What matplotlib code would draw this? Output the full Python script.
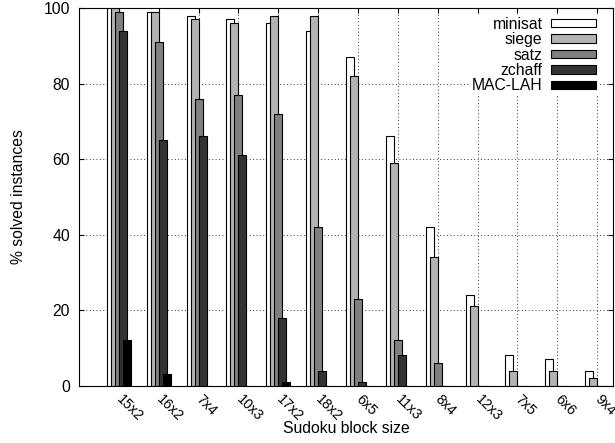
import numpy as np
import matplotlib
matplotlib.use("Agg")
import matplotlib.pyplot as plt

plt.rcParams['font.family'] = ['Liberation Sans', 'DejaVu Sans']

blocks = ['15x2', '16x2', '7x4', '10x3', '17x2', '18x2', '6x5',
          '11x3', '8x4', '12x3', '7x5', '6x6', '9x4']
minisat = [100, 99, 98, 97, 96, 94, 87, 66, 42, 24, 8, 7, 4]
siege = [100, 99, 97, 96, 98, 98, 82, 59, 34, 21, 4, 4, 2]
satz = [99, 91, 76, 77, 72, 42, 23, 12, 6, 0, 0, 0, 0]
zchaff = [94, 65, 66, 61, 18, 4, 1, 8, 0, 0, 0, 0, 0]
mac_lah = [12, 3, 0, 0, 1, 0, 0, 0, 0, 0, 0, 0, 0]

series = [('minisat', minisat, 'white'),
          ('siege', siege, '#b3b3b3'),
          ('satz', satz, '#808080'),
          ('zchaff', zchaff, '#333333'),
          ('MAC-LAH', mac_lah, 'black')]

fs = 11.3
fig = plt.figure(figsize=(6.15, 4.43), dpi=100)
ax = fig.add_axes([79/615, 1 - 385.7/443, (613-79)/615, (385.7-8)/443])

x = np.arange(len(blocks))
width = 0.2
for i, (name, vals, col) in enumerate(series):
    off = (i - 2) * 0.1
    ax.bar(x + off, vals, width, color=col, edgecolor='black',
           linewidth=0.8, label=name, zorder=2 + i)

ax.set_xlim(-1.0, 12.4)
ax.set_ylim(0, 100)
ax.set_yticks([0, 20, 40, 60, 80, 100])
ax.set_xticks(x)
ax.set_xticklabels(blocks, rotation=-45, ha='left', va='center',
                   rotation_mode='anchor', fontsize=10.2)
ax.tick_params(direction='in', length=3.6, top=True, right=True)
ax.tick_params(axis='y', pad=6.5, labelsize=fs)
ax.tick_params(axis='x', pad=8.0)
ax.set_axisbelow(True)
ax.grid(True, linestyle=(0, (1, 2.5)), color='0.2', linewidth=0.7)

ax.set_xlabel('Sudoku block size', fontsize=fs)
ax.xaxis.set_label_coords(0.5, -0.093)
ax.set_ylabel('% solved instances', fontsize=fs)
ax.yaxis.set_label_coords(-0.10, 0.5)

leg = ax.legend(loc='upper right', bbox_to_anchor=(598/615, 1 - 15/443),
                bbox_transform=fig.transFigure, markerfirst=False,
                fontsize=fs, handlelength=2.87, handleheight=0.45,
                handletextpad=0.57, labelspacing=0.03, borderpad=0.1,
                borderaxespad=0, frameon=True, fancybox=False)
leg.get_frame().set_edgecolor('none')
leg.get_frame().set_facecolor('white')
leg.get_frame().set_alpha(1)
leg.set_zorder(20)

fig.savefig('out.png', dpi=100)
